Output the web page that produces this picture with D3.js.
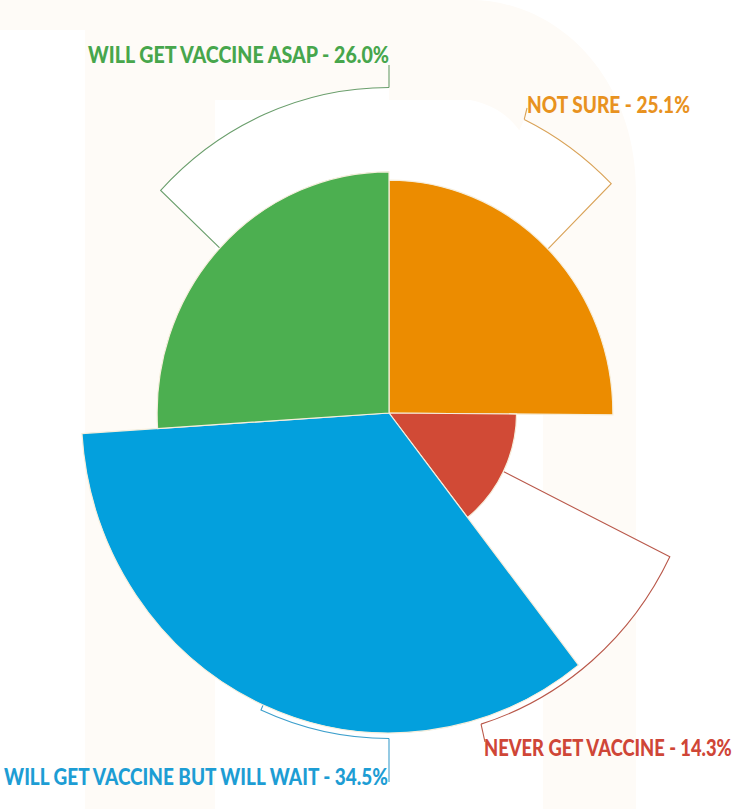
<!DOCTYPE html>
<html>
<head>
<meta charset="utf-8">
<script src="https://cdn.jsdelivr.net/npm/d3@7/dist/d3.min.js"></script>
<style>
html,body{margin:0;padding:0;background:#fff;}
svg{display:block;}
</style>
</head>
<body>
<script>
// ---- data ----
const categories = ["NOT SURE", "NEVER GET VACCINE", "WILL GET VACCINE BUT WILL WAIT", "WILL GET VACCINE ASAP"];
const values = [25.1, 14.3, 34.5, 26.0];
const colors = ["#ec8c00", "#d14a36", "#03a0dd", "#4caf50"];
const textColors = ["#e8921f", "#cf4637", "#1d9dd4", "#47a64c"];
const lineColors = ["#d9a257", "#b9584a", "#3d9fcc", "#6a9e6c"];

// ---- layout ----
const W = 742, H = 809;
const cx = 389, cy = 413, yStretch = 1.04;
const calloutR = 313;
// label anchor angle (degrees, clockwise from 12 o'clock)
const labelAngle = [25.6, 162.9, 180, 360];
const labelPos = [
  {x: 527, y: 113, anchor: "start", w: 163, tick: [527, 108]},
  {x: 484, y: 756, anchor: "start", w: 248, tick: [485, 742]},
  {x: 388, y: 785, anchor: "end", w: 384, tick: [389, 782]},
  {x: 389, y: 63, anchor: "end", w: 301, tick: [389, 65]}
];

const svg = d3.select("body").append("svg").attr("width", W).attr("height", H);

// faint watermark background
const bg = "#fefbf7";
svg.append("path")
  .attr("fill", bg)
  .attr("d", "M0,0 H470 C560,0 636,80 636,190 V809 H543 V240 C543,150 520,110 470,100 H215 V809 H85 V30 H0 Z");

const rScale = d3.scaleLinear().domain([0, 34.5]).range([0, 307.7]);
const pie = d3.pie().sort(null).value(d => d)(values);

const g = svg.append("g").attr("transform", `translate(${cx},${cy}) scale(1,${yStretch})`);
const rad = a => a * Math.PI / 180;
const pt = (a, r) => [r * Math.sin(a), -r * Math.cos(a)];

// callout white wedges
pie.forEach((p, i) => {
  const mid = (p.startAngle + p.endAngle) / 2;
  const la = rad(labelAngle[i]);
  const a0 = Math.min(mid, la), a1 = Math.max(mid, la);
  g.append("path")
    .attr("fill", "#ffffff")
    .attr("d", d3.arc()({innerRadius: 0, outerRadius: calloutR, startAngle: a0, endAngle: a1}));
});

// callout strokes (radial line + arc)
pie.forEach((p, i) => {
  const mid = (p.startAngle + p.endAngle) / 2;
  const la = rad(labelAngle[i]);
  const path = d3.path();
  path.moveTo(0, 0);
  const s = pt(mid, calloutR);
  path.lineTo(s[0], s[1]);
  path.arc(0, 0, calloutR, mid - Math.PI / 2, la - Math.PI / 2, la < mid);
  g.append("path")
    .attr("fill", "none")
    .attr("stroke", lineColors[i])
    .attr("stroke-width", 1.1)
    .attr("vector-effect", "non-scaling-stroke")
    .attr("d", path.toString());
});

// ticks to labels (in screen coords)
pie.forEach((p, i) => {
  const la = rad(labelAngle[i]);
  const e = pt(la, calloutR);
  svg.append("line")
    .attr("x1", cx + e[0]).attr("y1", cy + e[1] * yStretch)
    .attr("x2", labelPos[i].tick[0]).attr("y2", labelPos[i].tick[1])
    .attr("stroke", lineColors[i]).attr("stroke-width", 1.1);
});

// sectors
g.selectAll("path.sector")
  .data(pie)
  .join("path")
  .attr("class", "sector")
  .attr("fill", (d, i) => colors[i])
  .attr("stroke", "#f6eedc")
  .attr("stroke-width", 1.2)
  .attr("vector-effect", "non-scaling-stroke")
  .attr("d", d => d3.arc()({innerRadius: 0, outerRadius: rScale(d.data), startAngle: d.startAngle, endAngle: d.endAngle}));

// labels (condensed horizontally to the measured width of the original)
pie.forEach((p, i) => {
  const lp = labelPos[i];
  const t = svg.append("text")
    .attr("x", 0).attr("y", 0)
    .attr("text-anchor", lp.anchor)
    .attr("fill", textColors[i])
    .attr("font-family", "Lato, 'Open Sans', sans-serif")
    .attr("font-weight", 900)
    .attr("font-size", 22.5)
    .text(`${categories[i]} - ${values[i].toFixed(1)}%`);
  const natural = t.node().getComputedTextLength();
  const sx = lp.w / natural;
  t.attr("transform", `translate(${lp.x},${lp.y}) scale(${sx},1)`);
});
</script>
</body>
</html>
